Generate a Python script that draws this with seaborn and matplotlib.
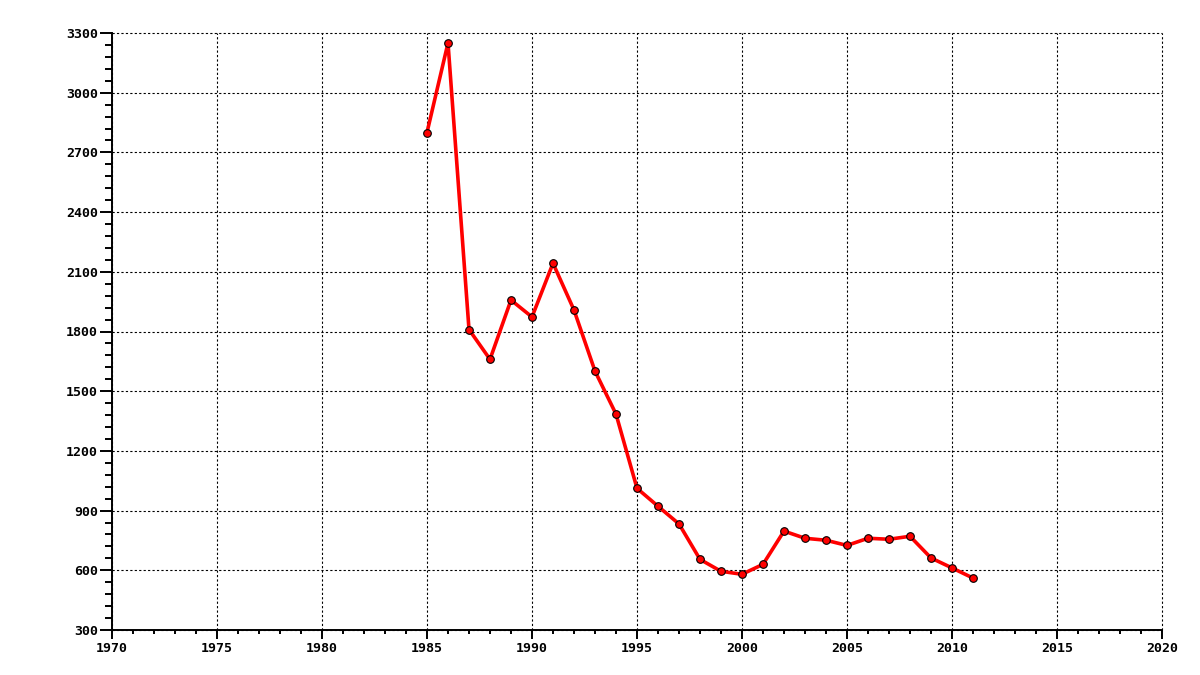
import matplotlib
matplotlib.use("Agg")
import matplotlib.pyplot as plt
from matplotlib.ticker import MultipleLocator
import seaborn as sns
import pandas as pd

years = list(range(1985, 2012))
values = [2800, 3250, 1810, 1660, 1958, 1873, 2143, 1908, 1601, 1385,
          1012, 922, 833, 655, 595, 580, 630, 797, 761, 751,
          725, 761, 756, 771, 662, 612, 561]

df = pd.DataFrame({"year": years, "value": values})

sns.set_style("white")
plt.rcParams['font.family'] = ['DejaVu Sans Mono', 'DejaVu Sans']

fig = plt.figure(figsize=(12, 6.75), dpi=100)
ax = fig.add_axes([112/1200, 45/675, 1050/1200, 597/675])

sns.lineplot(data=df, x="year", y="value", ax=ax, color="#ff0000",
             linewidth=2.6, marker="o", markersize=5.5,
             markerfacecolor="#ff0000", markeredgecolor="black",
             markeredgewidth=0.8, zorder=3)

ax.set_xlim(1970, 2020)
ax.set_ylim(300, 3300)
ax.xaxis.set_major_locator(MultipleLocator(5))
ax.xaxis.set_minor_locator(MultipleLocator(1))
ax.yaxis.set_major_locator(MultipleLocator(300))
ax.yaxis.set_minor_locator(MultipleLocator(60))

ax.grid(True, which="major", color="black", linestyle=(0, (2, 2)), linewidth=0.8)
ax.set_axisbelow(True)
for gl in ax.get_xgridlines() + ax.get_ygridlines():
    gl.set_clip_on(False)

for s in ["top", "right"]:
    ax.spines[s].set_visible(False)
for s in ["left", "bottom"]:
    ax.spines[s].set_color("black")
    ax.spines[s].set_linewidth(1.4)

ax.tick_params(axis="y", which="major", direction="out", length=9, width=1.4,
               color="black", pad=1, left=True)
ax.tick_params(axis="y", which="minor", direction="out", length=5, width=1.4,
               color="black", left=True)
ax.tick_params(axis="x", which="major", direction="out", length=6.5, width=1.4,
               color="black", pad=2, bottom=True)
ax.tick_params(axis="x", which="minor", direction="out", length=3, width=1.4,
               color="black", bottom=True)

for lab in ax.get_xticklabels() + ax.get_yticklabels():
    lab.set_fontsize(9.5)
    lab.set_fontweight("bold")
    lab.set_color("black")

ax.set_xlabel("")
ax.set_ylabel("")

fig.savefig("out.png", dpi=100, facecolor="white")
